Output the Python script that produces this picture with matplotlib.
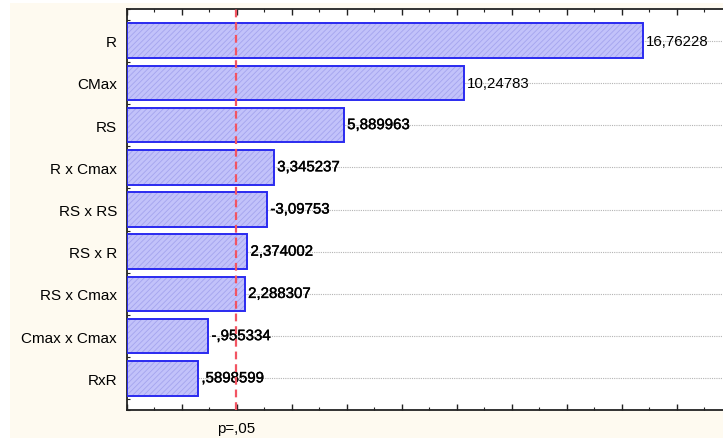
import matplotlib
matplotlib.use("Agg")
import matplotlib.pyplot as plt
from matplotlib.patches import Rectangle
from matplotlib.ticker import MultipleLocator, FixedLocator, NullFormatter
import matplotlib.patheffects as pe
import numpy as np

plt.rcParams['font.family'] = ['Liberation Sans', 'DejaVu Sans']
plt.rcParams['hatch.linewidth'] = 0.6

# data
effects = ["R", "CMax", "RS", "R x Cmax", "RS x RS", "RS x R", "RS x Cmax", "Cmax x Cmax", "RxR"]
values = [16.76228, 10.24783, 5.889963, 3.345237, -3.09753, 2.374002, 2.288307, -0.955334, 0.5898599]
critical = 1.99
crit_label = "p=,05"
x_min, x_max = -2, 19.68

def fmt(v):
    s = f"{v:.7g}".replace(".", ",")
    if s.startswith("0,"):
        s = s[1:]
    elif s.startswith("-0,"):
        s = "-" + s[2:]
    return s

W, H = 723, 439
fig = plt.figure(figsize=(W / 100, H / 100), dpi=100, facecolor='white')
fig.patches.append(Rectangle((10 / W, 0), 1 - 10 / W, (H - 4) / H,
                             transform=fig.transFigure, facecolor='#fefaf0',
                             edgecolor='none', zorder=-10))

ax = fig.add_axes([126.7 / W, 28 / H, 1 - 126.7 / W, (411 - 10) / H])
ax.set_zorder(1)
ax.set_facecolor('white')

y = np.arange(len(effects))
mags = np.abs(values)
# hatched fill (hatch drawn in edge colour, so use a light edge with no outline)
ax.barh(y, mags - x_min, left=x_min, height=0.82, color='#c2c2fa',
        edgecolor='#a4a4ee', linewidth=0, hatch='//////', zorder=3)
# blue outline
ax.barh(y, mags - x_min, left=x_min, height=0.82, fill=False,
        edgecolor='#2a2af0', linewidth=1.4, zorder=3.5)

for yi, (m, v) in enumerate(zip(mags, values)):
    t = ax.annotate(fmt(v), (m, yi), xytext=(2.5, 0), textcoords='offset points',
                    ha='left', va='center', fontsize=10.8, color='black', zorder=4)
    if yi >= 2:
        t.set_path_effects([pe.withStroke(linewidth=0.3, foreground='black')])

for yi in y:
    ax.axhline(yi, color='#b4b4b4', linestyle=(0, (1, 1)), linewidth=0.8, zorder=1)

ax.axvline(critical, color='#f25462', linestyle=(0, (3.5, 2.2)), linewidth=1.6, zorder=5)

ax.set_xlim(x_min, x_max)
ax.set_ylim(len(effects) - 0.25, -0.75)
ax.set_yticks(y)
ax.set_yticklabels(effects, fontsize=11)
ax.yaxis.set_minor_locator(FixedLocator([v for v in np.arange(-0.75, len(effects), 0.25)
                                         if abs(v - round(v)) > 1e-6]))
ax.xaxis.set_major_locator(MultipleLocator(2))
ax.xaxis.set_minor_locator(MultipleLocator(1))
ax.xaxis.set_major_formatter(NullFormatter())
ax.tick_params(axis='x', which='both', direction='in', top=True, bottom=True, colors='#222222')
ax.tick_params(axis='x', which='major', length=4, width=1)
ax.tick_params(axis='x', which='minor', length=2.5, width=0.8)
ax.tick_params(axis='y', which='major', direction='in', length=4, width=1, pad=7, colors='#222222', labelcolor='black')
ax.tick_params(axis='y', which='minor', direction='in', length=2, width=0.8, colors='#222222')
for s in ['left', 'bottom', 'top']:
    ax.spines[s].set_linewidth(1.3)
    ax.spines[s].set_color('#222222')
ax.spines['right'].set_visible(False)

ax.text(critical, -0.045, crit_label, transform=ax.get_xaxis_transform(),
        ha='center', va='center', fontsize=10.8, color='black')

fig.savefig("out.png", dpi=100, facecolor=fig.get_facecolor())
